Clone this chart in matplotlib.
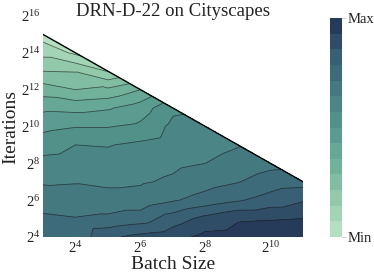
import numpy as np
import matplotlib
matplotlib.use("Agg")
import matplotlib.pyplot as plt
import matplotlib.tri as mtri
from matplotlib.colors import LinearSegmentedColormap

# log2 of batch size (columns) and log2 of iterations (rows)
batch_exp = [3, 4, 5, 6, 7, 8, 9, 10, 11]
iter_exp = [4, 5, 6, 7, 8, 9, 10, 11, 12, 13, 14, 15]
budget_exp = 18  # batch * iterations <= 2^18

nan = np.nan
# normalised score per grid point (rows = iter_exp, cols = batch_exp)
score = [
    [10.5, 10.3, 11.8, 12.3, 12.6, 13.3, 13.4, 13.5, 13.5],
    [10.2, 10.05, 10.2, 10.5, 11.5, 12.3, 12.9, 12.95, 13.0],
    [9.5, 9.4, 9.4, 9.4, 9.9, 10.4, 10.9, 11.4, 11.9],
    [8.9, 8.95, 8.8, 8.9, 9.15, 9.6, 9.95, 10.5, 10.6],
    [8.3, 8.4, 8.35, 8.6, 8.8, 9.0, 9.3, 9.7, nan],
    [7.6, 8.0, 7.95, 8.2, 8.5, 8.7, 8.95, nan, nan],
    [6.7, 6.95, 6.95, 7.2, 8.25, 8.4, nan, nan, nan],
    [5.8, 5.7, 5.9, 6.5, 7.8, nan, nan, nan, nan],
    [4.5, 4.0, 4.2, 5.0, nan, nan, nan, nan, nan],
    [3.0, 2.95, 1.95, nan, nan, nan, nan, nan, nan],
    [1.7, 0.8, nan, nan, nan, nan, nan, nan, nan],
    [0.5, nan, nan, nan, nan, nan, nan, nan, nan],
]
levels = np.arange(0, 15)
palette = ["#bfe3c6", "#93cbab", "#6fb09a", "#56968d", "#457b81",
           "#375d72", "#223254"]

plt.rcParams["font.family"] = "Liberation Serif"
plt.rcParams["mathtext.fontset"] = "custom"
plt.rcParams["mathtext.rm"] = "Liberation Serif"
plt.rcParams["mathtext.it"] = "Liberation Serif:italic"

Z = np.array(score, dtype=float)
nx, ny = len(batch_exp), len(iter_exp)

# points below the budget line + triangles of the grid
xs, ys, zs, idx = [], [], [], {}
for j in range(ny):
    for i in range(nx):
        if not np.isnan(Z[j, i]):
            idx[(i, j)] = len(xs)
            xs.append(batch_exp[i])
            ys.append(iter_exp[j])
            zs.append(Z[j, i])
tris = []
for j in range(ny - 1):
    for i in range(nx - 1):
        a, b = idx.get((i, j)), idx.get((i + 1, j))
        c, d = idx.get((i, j + 1)), idx.get((i + 1, j + 1))
        if a is None or b is None or c is None:
            continue
        tris.append([a, b, c])
        if d is not None:
            tris.append([b, d, c])
tri = mtri.Triangulation(xs, ys, tris)

cmap = LinearSegmentedColormap.from_list("mint_navy", palette)

fig = plt.figure(figsize=(3.74, 2.77), dpi=100)
ax = fig.add_axes([43 / 374, 40 / 277, 260 / 374, 221 / 277])
cs = ax.tricontourf(tri, zs, levels=levels, cmap=cmap)
ax.tricontour(tri, zs, levels=levels[1:-1], colors="#1a1a1a",
              linewidths=0.6, alpha=0.6)
xb = np.array([batch_exp[0], batch_exp[-1]])
ax.plot(xb, budget_exp - xb, color="black", lw=1.0)

ax.set_xlim(batch_exp[0], batch_exp[-1])
ax.set_ylim(iter_exp[0], 16)
ax.set_xticks([4, 6, 8, 10])
ax.set_xticklabels([f"$2^{{{v}}}$" for v in [4, 6, 8, 10]])
ax.set_yticks([4, 6, 8, 10, 12, 14, 16])
ax.set_yticklabels([f"$2^{{{v}}}$" for v in [4, 6, 8, 10, 12, 14, 16]])
ax.tick_params(length=0, labelsize=10.5, pad=2, colors="#222222")
for s in ax.spines.values():
    s.set_visible(False)
ax.set_xlabel("Batch Size", fontsize=14, color="#222222", labelpad=0)
ax.set_ylabel("Iterations", fontsize=14, color="#222222", labelpad=1)

fig.text(173 / 374, 1 - 11 / 277, "DRN-D-22 on Cityscapes", ha="center",
         va="center", fontsize=13.5, color="#222222")

cax = fig.add_axes([330 / 374, 40 / 277, 12 / 374, 219 / 277])
cb = fig.colorbar(cs, cax=cax, ticks=[levels[0], levels[-1]])
cb.ax.set_yticklabels(["Min", "Max"])
cb.outline.set_visible(False)
cb.ax.tick_params(length=3, width=0.5, color="#bbbbbb", labelsize=10.5,
                  pad=1, labelcolor="#222222")

fig.savefig("out.png", dpi=100)
